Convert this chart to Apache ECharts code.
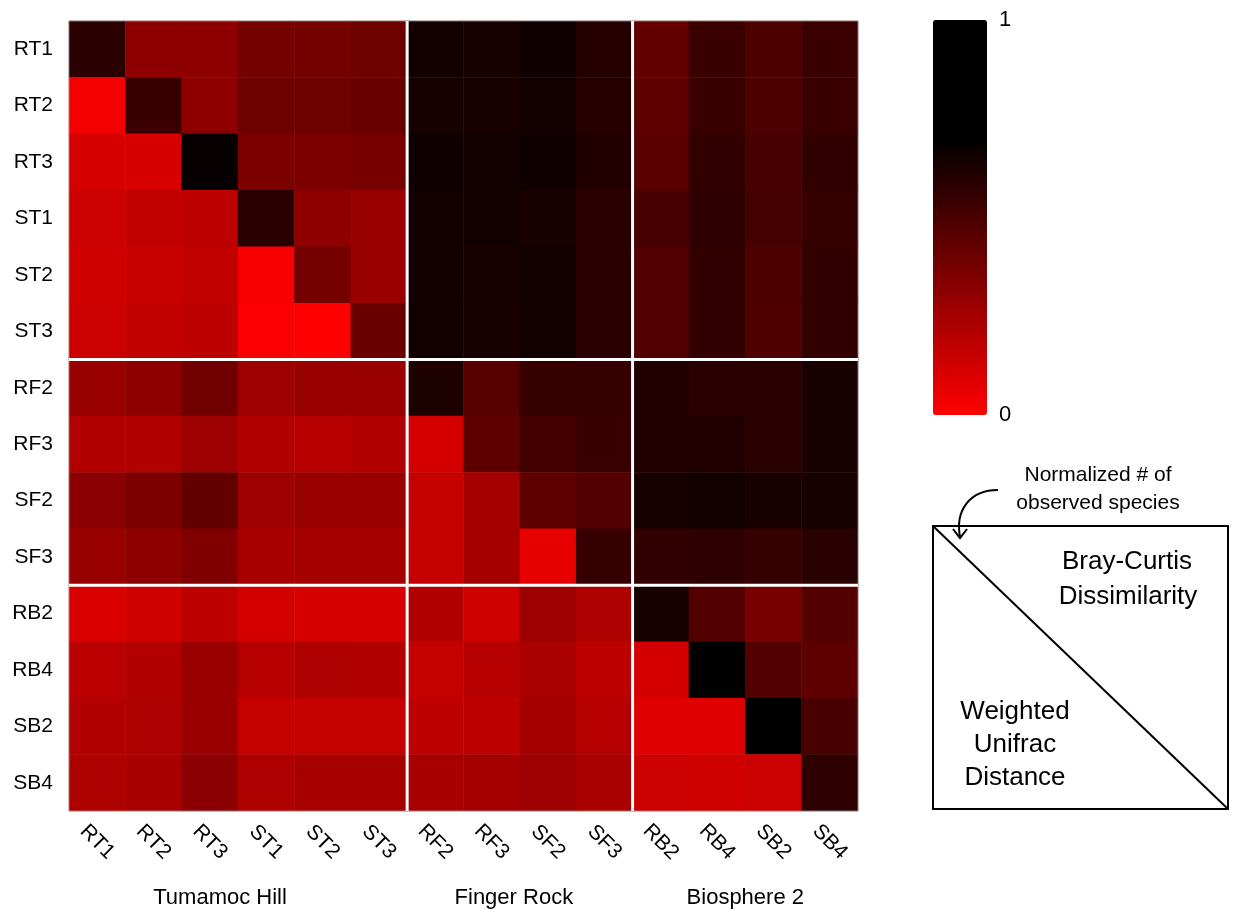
<!DOCTYPE html>
<html><head><meta charset="utf-8">
<script src="https://cdn.jsdelivr.net/npm/echarts@6/dist/echarts.min.js"></script>
<style>html,body{margin:0;padding:0;background:#fff}#c{width:1233px;height:909px}</style>
</head><body><div id="c"></div>
<script>
const samples = ['RT1','RT2','RT3','ST1','ST2','ST3','RF2','RF3','SF2','SF3','RB2','RB4','SB2','SB4'];
const groups = ['Tumamoc Hill','Finger Rock','Biosphere 2'];
const groupSpans = [[0,5],[6,9],[10,13]];
const colorbarLabels = ['1','0'];
const matrix = [
 [0.58,0.31,0.31,0.38,0.38,0.40,0.65,0.63,0.66,0.60,0.43,0.54,0.49,0.54],
 [0.03,0.54,0.31,0.40,0.40,0.41,0.64,0.63,0.65,0.60,0.44,0.54,0.49,0.54],
 [0.11,0.11,0.68,0.36,0.36,0.37,0.66,0.65,0.66,0.61,0.45,0.56,0.50,0.56],
 [0.14,0.17,0.18,0.59,0.31,0.28,0.65,0.65,0.63,0.58,0.50,0.57,0.51,0.55],
 [0.13,0.15,0.17,0.02,0.38,0.28,0.65,0.64,0.65,0.58,0.47,0.56,0.49,0.56],
 [0.14,0.17,0.18,0.01,0.00,0.41,0.65,0.63,0.65,0.58,0.47,0.56,0.48,0.56],
 [0.28,0.31,0.39,0.27,0.28,0.28,0.62,0.46,0.55,0.55,0.61,0.59,0.59,0.63],
 [0.21,0.21,0.27,0.21,0.20,0.21,0.12,0.44,0.52,0.54,0.61,0.61,0.59,0.63],
 [0.32,0.36,0.43,0.27,0.28,0.28,0.16,0.25,0.44,0.47,0.64,0.65,0.63,0.64],
 [0.28,0.31,0.35,0.24,0.25,0.25,0.16,0.25,0.07,0.55,0.56,0.57,0.55,0.59],
 [0.10,0.13,0.18,0.12,0.11,0.11,0.21,0.13,0.27,0.22,0.64,0.47,0.37,0.47],
 [0.19,0.21,0.28,0.20,0.22,0.21,0.16,0.20,0.23,0.18,0.12,1.00,0.47,0.44],
 [0.21,0.22,0.28,0.16,0.16,0.16,0.18,0.18,0.25,0.20,0.09,0.09,0.95,0.50],
 [0.22,0.24,0.32,0.22,0.24,0.24,0.24,0.25,0.27,0.23,0.14,0.13,0.14,0.57]
];

const data = [];
matrix.forEach((row, r) => row.forEach((v, c) => data.push([c, r, v])));

const FONT = '"Liberation Sans", Arial, Helvetica, sans-serif';
const chart = echarts.init(document.getElementById('c'), null, {renderer: 'canvas'});
chart.setOption({
  animation: false,
  backgroundColor: '#fff',
  textStyle: {fontFamily: FONT},
  grid: {left: 69, top: 21, width: 789, height: 790},
  xAxis: {
    type: 'category', data: samples,
    axisLine: {show: false}, axisTick: {show: false}, splitLine: {show: false},
    axisLabel: {interval: 0, rotate: -45, margin: 31, align: 'center', verticalAlign: 'middle',
      fontSize: 21, color: '#000', fontFamily: FONT}
  },
  yAxis: {
    type: 'category', data: samples, inverse: true,
    axisLine: {show: false}, axisTick: {show: false}, splitLine: {show: false},
    axisLabel: {interval: 0, margin: 16, fontSize: 21, color: '#000', fontFamily: FONT}
  },
  visualMap: {
    type: 'continuous', min: 0, max: 1, left: 933, top: 20, padding: 0,
    itemWidth: 54, itemHeight: 395, calculable: false, hoverLink: false,
    inRange: {color: ['#ff0000','#db0000','#b60000','#920000','#6d0000','#490000','#240000','#000000','#000000','#000000','#000000']}
  },
  series: [{type: 'heatmap', data: data, emphasis: {disabled: true}, itemStyle: {borderWidth: 0}}]
});

function px(i) { return chart.convertToPixel({xAxisIndex: 0}, i); }
function py(i) { return chart.convertToPixel({yAxisIndex: 0}, i); }
const half = (px(1) - px(0)) / 2;
const halfY = (py(1) - py(0)) / 2;
const gx0 = px(0) - half, gx1 = px(samples.length - 1) + half;
const gy0 = py(0) - halfY, gy1 = py(samples.length - 1) + halfY;

const g = [];
g.push({type: 'rect', shape: {x: gx0, y: gy0, width: gx1 - gx0, height: gy1 - gy0},
  style: {fill: 'none', stroke: 'rgba(170,170,170,0.7)', lineWidth: 1}, z: 10});
groupSpans.slice(0, -1).forEach(s => {
  const bx = (px(s[1]) + px(s[1] + 1)) / 2;
  const by = (py(s[1]) + py(s[1] + 1)) / 2;
  g.push({type: 'line', shape: {x1: bx, y1: gy0, x2: bx, y2: gy1}, style: {stroke: '#fff', lineWidth: 3}, z: 11});
  g.push({type: 'line', shape: {x1: gx0, y1: by, x2: gx1, y2: by}, style: {stroke: '#fff', lineWidth: 3}, z: 11});
});
const groupShift = [-18, -6, 0];
groups.forEach((name, i) => {
  const s = groupSpans[i];
  const cx = (px(s[0]) + px(s[1])) / 2 + groupShift[i];
  g.push({type: 'text', x: cx, y: 898, style: {text: name, fontSize: 22, fill: '#000', fontFamily: FONT, align: 'center', verticalAlign: 'middle'}});
});
// colorbar labels
g.push({type: 'text', x: 999, y: 20, style: {text: colorbarLabels[0], fontSize: 22, fill: '#000', fontFamily: FONT, align: 'left', verticalAlign: 'middle'}});
g.push({type: 'text', x: 999, y: 415, style: {text: colorbarLabels[1], fontSize: 22, fill: '#000', fontFamily: FONT, align: 'left', verticalAlign: 'middle'}});
// legend box
g.push({type: 'rect', shape: {x: 933, y: 526, width: 295, height: 283}, style: {fill: 'none', stroke: '#000', lineWidth: 2}});
g.push({type: 'line', shape: {x1: 933, y1: 526, x2: 1228, y2: 809}, style: {stroke: '#000', lineWidth: 2}});
const boxText = [
  ['Normalized # of', 1098, 475, 21], ['observed species', 1098, 503, 21],
  ['Bray-Curtis', 1127, 562, 26], ['Dissimilarity', 1128, 597, 26],
  ['Weighted', 1015, 712, 26], ['Unifrac', 1015, 745, 26], ['Distance', 1015, 778, 26]
];
boxText.forEach(t => g.push({type: 'text', x: t[1], y: t[2], style: {text: t[0], fontSize: t[3], fill: '#000', fontFamily: FONT, align: 'center', verticalAlign: 'middle'}}));
g.push({type: 'bezierCurve', shape: {x1: 998, y1: 490, cpx1: 970, cpy1: 490, cpx2: 955, cpy2: 510, x2: 960, y2: 537}, style: {fill: 'none', stroke: '#000', lineWidth: 2}});
g.push({type: 'polyline', shape: {points: [[953, 529], [960, 538], [967, 529]]}, style: {fill: 'none', stroke: '#000', lineWidth: 2}});

chart.setOption({graphic: {elements: g}});
</script></body></html>
